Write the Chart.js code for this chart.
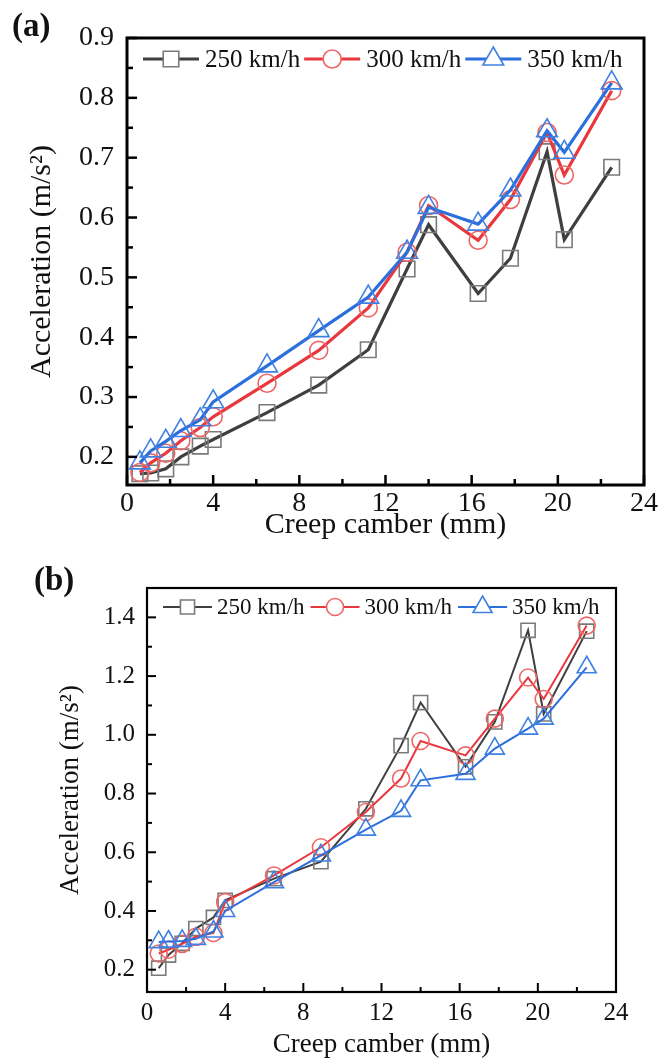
<!DOCTYPE html>
<html>
<head>
<meta charset="utf-8">
<script src="https://cdn.jsdelivr.net/npm/chart.js@4.4.1/dist/chart.umd.min.js"></script>
<style>
  body { margin: 0; background: #fff; width: 660px; height: 1061px; position: relative; overflow: hidden; }
  canvas { position: absolute; left: 0; }
  #chartA { top: 0; }
  #chartB { top: 545px; }
  .tag { position: absolute; font-family: "Liberation Serif", serif; font-weight: bold; font-size: 33px; color: #111; }
</style>
</head>
<body>
<canvas id="chartA" width="660" height="545"></canvas>
<canvas id="chartB" width="660" height="516"></canvas>
<div class="tag" style="left:12px; top:7px;">(a)</div>
<div class="tag" style="left:34px; top:561px;">(b)</div>
<script>
// creep camber (mm), same for both panels
var camber = [0.6, 1.1, 1.8, 2.5, 3.4, 4.0, 6.5, 8.9, 11.2, 13.0, 14.0, 16.3, 17.8, 19.5, 20.3, 22.5];
var speeds = ["250 km/h", "300 km/h", "350 km/h"];

// panel (a)
var accA250 = [0.172, 0.173, 0.180, 0.200, 0.218, 0.229, 0.274, 0.320, 0.379, 0.514, 0.588, 0.473, 0.532, 0.710, 0.563, 0.684];
var accA300 = [0.174, 0.190, 0.206, 0.227, 0.249, 0.267, 0.323, 0.378, 0.449, 0.542, 0.620, 0.562, 0.630, 0.742, 0.671, 0.812];
var accA350 = [0.190, 0.210, 0.226, 0.244, 0.262, 0.292, 0.352, 0.411, 0.467, 0.542, 0.617, 0.589, 0.646, 0.745, 0.709, 0.825];

// panel (b)
var accB250 = [0.205, 0.250, 0.290, 0.340, 0.378, 0.436, 0.510, 0.568, 0.748, 0.963, 1.110, 0.891, 1.044, 1.356, 1.071, 1.353];
var accB300 = [0.255, 0.268, 0.288, 0.312, 0.325, 0.430, 0.521, 0.617, 0.737, 0.851, 0.979, 0.930, 1.055, 1.195, 1.122, 1.372];
var accB350 = [0.294, 0.296, 0.298, 0.305, 0.330, 0.400, 0.498, 0.589, 0.677, 0.741, 0.845, 0.867, 0.953, 1.021, 1.055, 1.230];

var xTicks = [0, 4, 8, 12, 16, 20, 24];
var xMinor = [2, 6, 10, 14, 18, 22];
var yTicksA = [0.2, 0.3, 0.4, 0.5, 0.6, 0.7, 0.8, 0.9];
var yMinorA = [0.25, 0.35, 0.45, 0.55, 0.65, 0.75, 0.85];
var yTicksB = [0.2, 0.4, 0.6, 0.8, 1.0, 1.2, 1.4];
var yMinorB = [0.3, 0.5, 0.7, 0.9, 1.1, 1.3];

Chart.defaults.font.family = "'Liberation Serif', 'Times New Roman', serif";
Chart.defaults.color = "#111";

function toPoints(ys) {
    return camber.map(function (x, i) { return { x: x, y: ys[i] }; });
}

function marker(ctx, style, r, x, y) {
    ctx.beginPath();
    if (style === "rect") {
        var s = r * Math.SQRT1_2;
        ctx.rect(x - s, y - s, 2 * s, 2 * s);
    } else if (style === "triangle") {
        ctx.moveTo(x, y - r);
        ctx.lineTo(x + r * 0.866, y + r * 0.5);
        ctx.lineTo(x - r * 0.866, y + r * 0.5);
        ctx.closePath();
    } else {
        ctx.arc(x, y, r, 0, Math.PI * 2);
    }
    ctx.fill();
    ctx.stroke();
}

// box, inward ticks and the in-plot legend
var framePlugin = {
    id: "frame",
    afterDatasetsDraw: function (chart, args, o) {
        var ctx = chart.ctx, a = chart.chartArea;
        var xs = chart.scales.x, ys = chart.scales.y;
        ctx.save();
        ctx.strokeStyle = "#000";
        ctx.lineWidth = o.tickWidth;
        function tx(v, len) {
            var p = xs.getPixelForValue(v);
            ctx.beginPath(); ctx.moveTo(p, a.bottom); ctx.lineTo(p, a.bottom - len); ctx.stroke();
        }
        function ty(v, len) {
            var p = ys.getPixelForValue(v);
            ctx.beginPath(); ctx.moveTo(a.left, p); ctx.lineTo(a.left + len, p); ctx.stroke();
        }
        xTicks.forEach(function (v) { tx(v, o.major); });
        xMinor.forEach(function (v) { tx(v, o.minor); });
        o.yMajor.forEach(function (v) { ty(v, o.major); });
        o.yMinor.forEach(function (v) { ty(v, o.minor); });
        ctx.lineWidth = o.boxWidth;
        ctx.strokeRect(a.left, a.top, a.right - a.left, a.bottom - a.top);

        var lg = o.legend, x = lg.x;
        ctx.font = lg.font;
        ctx.textBaseline = "middle";
        chart.data.datasets.forEach(function (ds) {
            ctx.strokeStyle = ds.borderColor;
            ctx.lineWidth = ds.borderWidth;
            ctx.beginPath(); ctx.moveTo(x, lg.y); ctx.lineTo(x + lg.line, lg.y); ctx.stroke();
            ctx.fillStyle = "#fff";
            ctx.strokeStyle = ds.pointBorderColor;
            ctx.lineWidth = ds.pointBorderWidth;
            marker(ctx, ds.pointStyle, ds.pointRadius, x + lg.line / 2, lg.y);
            x += lg.line + lg.gap;
            ctx.fillStyle = "#111";
            ctx.fillText(ds.label, x, lg.y + 1);
            x += ctx.measureText(ds.label).width + lg.gap2;
        });
        ctx.restore();
    }
};

function series(label, data, line, point, style, radius, width, order) {
    return {
        label: label, data: toPoints(data), order: order,
        borderColor: line, borderWidth: width,
        pointStyle: style, pointRadius: radius, pointHoverRadius: radius,
        pointBorderColor: point, pointBorderWidth: 1.6,
        pointBackgroundColor: "rgba(255,255,255,0)",
        clip: false, tension: 0
    };
}

function makeChart(id, cfg) {
    return new Chart(document.getElementById(id), {
        type: "line",
        data: {
            datasets: [
                series(speeds[0], cfg.d250, "#3f3f3f", "#7a7a7a", "rect", cfg.rSq, cfg.lw, 3),
                series(speeds[1], cfg.d300, "#e8383d", "#ee6767", "circle", cfg.rCi, cfg.lw, 2),
                series(speeds[2], cfg.d350, "#2b6fdc", "#3f80e2", "triangle", cfg.rTr, cfg.lw, 1)
            ]
        },
        options: {
            responsive: false,
            animation: false,
            layout: { padding: cfg.pad },
            plugins: {
                legend: { display: false },
                tooltip: { enabled: false },
                frame: {
                    tickWidth: cfg.tickW, boxWidth: cfg.boxW, major: cfg.major, minor: cfg.minor,
                    yMajor: cfg.yTicks, yMinor: cfg.yMinor, legend: cfg.legend
                }
            },
            scales: {
                x: {
                    type: "linear", min: 0, max: 24,
                    grid: { display: false, drawTicks: false },
                    border: { display: false },
                    afterBuildTicks: function (s) { s.ticks = xTicks.map(function (v) { return { value: v }; }); },
                    afterFit: function (s) { s.height = cfg.xHeight; },
                    ticks: { font: { size: cfg.tickFont }, padding: cfg.xPad, color: "#111", maxRotation: 0,
                        callback: function (v) { return String(v); } },
                    title: { display: true, text: "Creep camber (mm)", font: { size: cfg.titleFont },
                        padding: { top: 0, bottom: cfg.xTitlePad }, color: "#111" }
                },
                y: {
                    type: "linear", min: cfg.yMin, max: cfg.yMax,
                    grid: { display: false, drawTicks: false },
                    border: { display: false },
                    afterBuildTicks: function (s) { s.ticks = cfg.yTicks.map(function (v) { return { value: v }; }); },
                    afterFit: function (s) { s.width = cfg.yWidth; },
                    ticks: { font: { size: cfg.tickFont }, padding: cfg.yPad, color: "#111",
                        callback: function (v) { return Number(v).toFixed(1); } },
                    title: { display: true, text: "Acceleration (m/s²)", font: { size: cfg.titleFont },
                        padding: { top: cfg.yTitlePad, bottom: 0 }, color: "#111" }
                }
            }
        },
        plugins: [framePlugin]
    });
}

makeChart("chartA", {
    d250: accA250, d300: accA300, d350: accA350,
    yMin: 0.153, yMax: 0.9, yTicks: yTicksA, yMinor: yMinorA,
    pad: { top: 38, right: 15, left: 0, bottom: 0 },
    xHeight: 60, yWidth: 127, tickFont: 28, titleFont: 30,
    xPad: 2, yPad: 13, xTitlePad: 2, yTitlePad: 24,
    lw: 3.2, rSq: 11, rCi: 9, rTr: 12,
    tickW: 2.5, boxW: 3, major: 10, minor: 6,
    legend: { x: 143, y: 59, line: 56, gap: 6, gap2: 4, font: "25px 'Liberation Serif', serif" }
});

makeChart("chartB", {
    d250: accB250, d300: accB300, d350: accB350,
    yMin: 0.124, yMax: 1.5, yTicks: yTicksB, yMinor: yMinorB,
    pad: { top: 43, right: 44, left: 0, bottom: 0 },
    xHeight: 69, yWidth: 147, tickFont: 25, titleFont: 27,
    xPad: 6, yPad: 12, xTitlePad: 0, yTitlePad: 55,
    lw: 2, rSq: 10, rCi: 8.5, rTr: 11,
    tickW: 2, boxW: 2.2, major: 9, minor: 5,
    legend: { x: 163, y: 62, line: 49, gap: 5, gap2: 6, font: "23px 'Liberation Serif', serif" }
});
</script>
</body>
</html>
